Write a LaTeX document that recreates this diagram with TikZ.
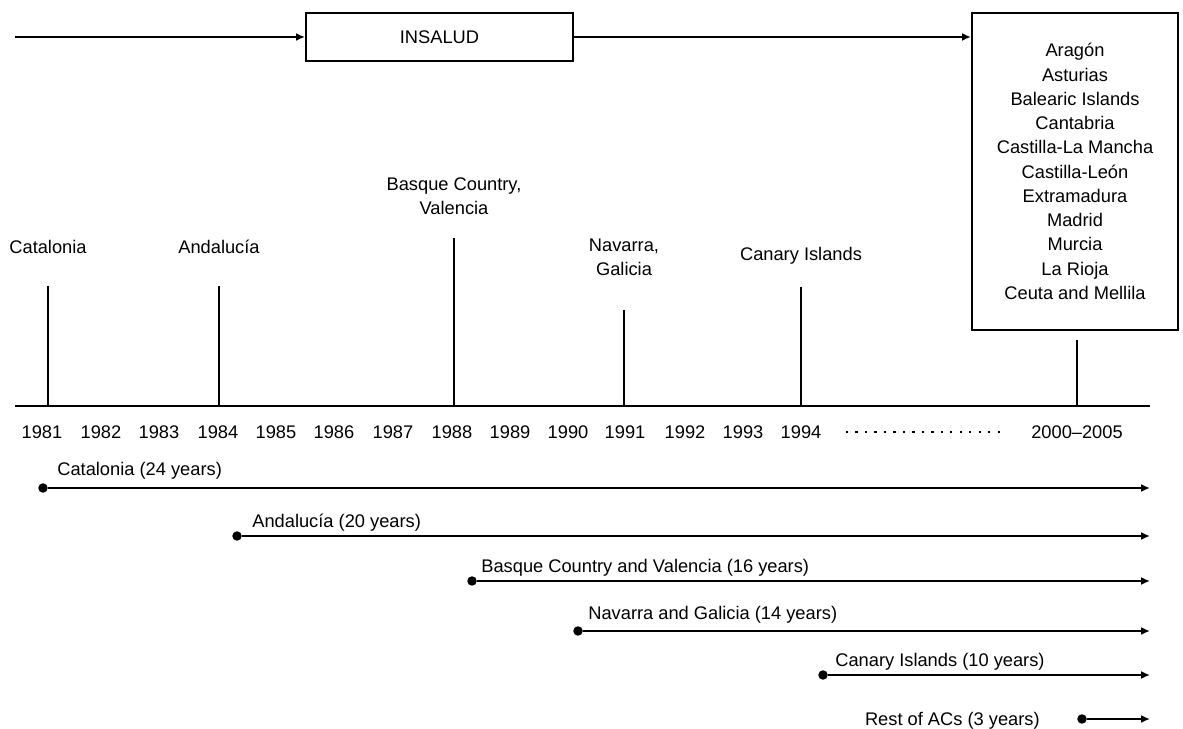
\documentclass[tikz,border=0pt]{standalone}
\usepackage{fontspec}
\setmainfont{Liberation Sans}
\usetikzlibrary{arrows.meta}
\begin{document}
\begin{tikzpicture}
[x=0.02cm,y=-0.02cm,
 ar/.style={-{Latex[length=5pt,width=4.5pt]},line width=1.2pt},
 bx/.style={draw,line width=1.2pt,rectangle,inner sep=0pt,align=center,font=\fontsize{10.4}{13.8}\selectfont},
 tk/.style={line width=1.2pt},
 dt/.style={circle,fill,inner sep=0pt,minimum size=5.4pt},
 lb/.style={inner sep=0pt,align=center,font=\fontsize{10.4}{13.8}\selectfont},
 yr/.style={lb,anchor=base}]
\useasboundingbox (0,0) rectangle (1183,729);

% top row
\coordinate (in0) at (15,37);
\node [bx,minimum width=5.34cm,minimum height=0.96cm] at (439.5,37) (ins) {INSALUD};
\node [bx,minimum width=4.12cm,minimum height=6.34cm] at (1075,171.5) (rest) {Arag\'on\\Asturias\\Balearic Islands\\Cantabria\\Castilla-La Mancha\\Castilla-Le\'on\\Extramadura\\Madrid\\Murcia\\La Rioja\\Ceuta and Mellila};
\draw [ar] (in0) -- (ins.west);
\draw [ar] (ins.east) -- (ins.east -| rest.west);

% axis
\coordinate (a0) at (15,406);
\coordinate (a1) at (1150,406);
\draw [line width=1.7pt] (a0) -- (a1);

% transfers
\node [lb] at (48,247) (cat) {Catalonia};
\node [lb] at (219,247) (and) {Andaluc\'ia};
\node [lb] at (454,196) (bas) {Basque Country,\\Valencia};
\node [lb] at (624,257) (nav) {Navarra,\\Galicia};
\node [lb] at (801,256) (can) {Canary Islands};
\coordinate (c1) at (48,286);   \coordinate (c0) at (48,406);
\coordinate (d1) at (219,286);  \coordinate (d0) at (219,406);
\coordinate (b1) at (454,238);  \coordinate (b0) at (454,406);
\coordinate (n1) at (624,310);  \coordinate (n0) at (624,406);
\coordinate (k1) at (801,287);  \coordinate (k0) at (801,406);
\coordinate (r1) at (1077,340); \coordinate (r0) at (1077,406);
\draw [tk] (c0) -- (c1);
\draw [tk] (d0) -- (d1);
\draw [tk] (b0) -- (b1);
\draw [tk] (n0) -- (n1);
\draw [tk] (k0) -- (k1);
\draw [tk] (r0) -- (r1);

% years
\node [yr] at (42,438.5) (y81) {1981};
\node [yr] at (101,438.5) (y82) {1982};
\node [yr] at (159,438.5) (y83) {1983};
\node [yr] at (218,438.5) (y84) {1984};
\node [yr] at (276,438.5) (y85) {1985};
\node [yr] at (334,438.5) (y86) {1986};
\node [yr] at (393,438.5) (y87) {1987};
\node [yr] at (452,438.5) (y88) {1988};
\node [yr] at (510,438.5) (y89) {1989};
\node [yr] at (568,438.5) (y90) {1990};
\node [yr] at (625,438.5) (y91) {1991};
\node [yr] at (685,438.5) (y92) {1992};
\node [yr] at (743,438.5) (y93) {1993};
\node [yr] at (801,438.5) (y94) {1994};
\node [yr] at (1077,438.5) (y00) {2000--2005};
\coordinate (p0) at (846,432);
\coordinate (p1) at (1000,432);
\draw [line width=1.4pt,dash pattern=on 1.2pt off 4.2pt] (p0) -- (p1);

% durations
\node [dt] at (43,488) (s1) {};
\node [dt] at (237,536) (s2) {};
\node [dt] at (472,581) (s3) {};
\node [dt] at (578,631) (s4) {};
\node [dt] at (823,675) (s5) {};
\node [dt] at (1082,719) (s6) {};
\coordinate (e1) at (1150,488);
\coordinate (e2) at (1150,536);
\coordinate (e3) at (1150,581);
\coordinate (e4) at (1150,631);
\coordinate (e5) at (1150,675);
\coordinate (e6) at (1150,719);
\draw [ar] (s1) -- (e1);
\draw [ar] (s2) -- (e2);
\draw [ar] (s3) -- (e3);
\draw [ar] (s4) -- (e4);
\draw [ar] (s5) -- (e5);
\draw [ar] (s6) -- (e6);
\node [lb,anchor=base west] at (57,475) (l1) {Catalonia (24 years)};
\node [lb,anchor=base west] at (252,527) (l2) {Andaluc\'ia (20 years)};
\node [lb,anchor=base west] at (481,572) (l3) {Basque Country and Valencia (16 years)};
\node [lb,anchor=base west] at (588,619) (l4) {Navarra and Galicia (14 years)};
\node [lb,anchor=base west] at (835,666) (l5) {Canary Islands (10 years)};
\node [lb,anchor=base east] at (1040,725) (l6) {Rest of ACs (3 years)};
\end{tikzpicture}
\end{document}
